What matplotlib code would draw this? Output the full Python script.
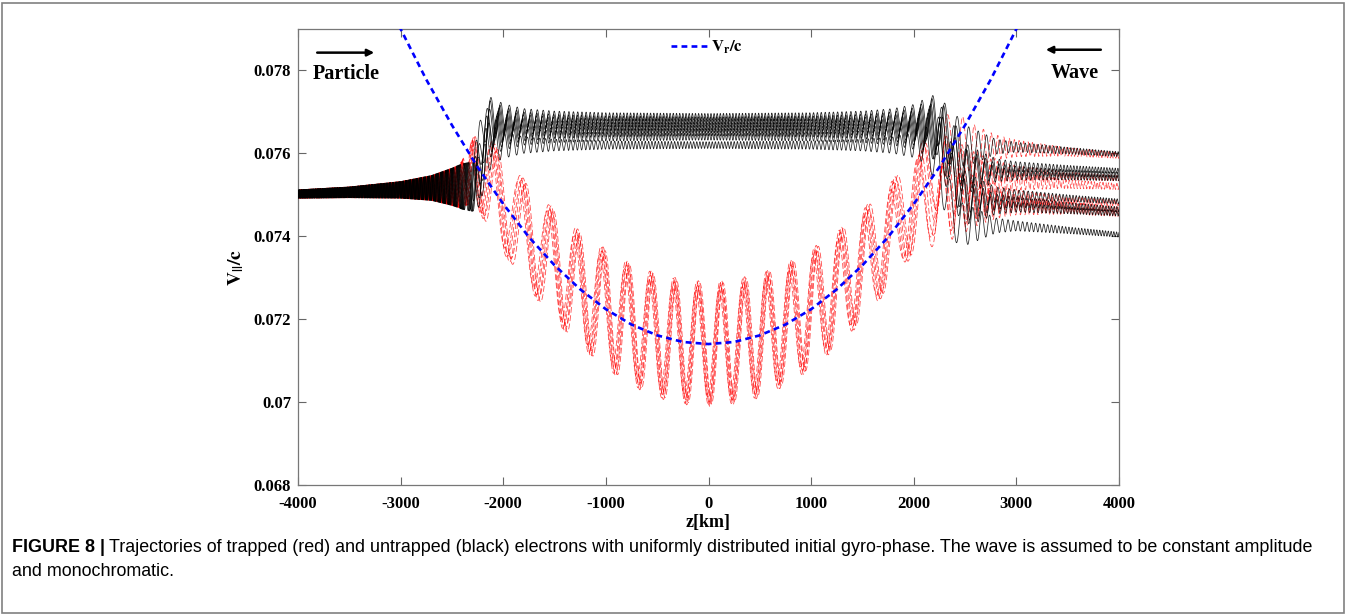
import numpy as np
import matplotlib
matplotlib.use("Agg")
import matplotlib.pyplot as plt
from matplotlib.patches import Rectangle

plt.rcParams['font.family'] = ['Liberation Serif', 'DejaVu Serif']
plt.rcParams['mathtext.fontset'] = 'stix'

# ---------------- data ----------------
# resonance velocity V_r/c along z
vr_z = [-3100, -3000, -2750, -2500, -2250, -2000, -1750, -1500, -1250, -1000, -750, -500, -250,
        0, 250, 500, 750, 1000, 1250, 1500, 1750, 2000, 2250, 2500, 2750, 3000, 3100]
vr_v = [0.07951, 0.07900, 0.07778, 0.07668, 0.07567, 0.07478, 0.07398, 0.07330, 0.07272, 0.07224,
        0.07187, 0.07161, 0.07145, 0.07140, 0.07145, 0.07161, 0.07187, 0.07224, 0.07272, 0.07330,
        0.07398, 0.07478, 0.07567, 0.07668, 0.07778, 0.07900, 0.07951]

# common pre-resonance drift of all electrons
pre_z = [-4000, -3500, -3000, -2600, -2450]
pre_v = [0.07502, 0.07506, 0.07512, 0.07518, 0.07520]

# untrapped (black) electrons
black_amp_z = [-4000, -3500, -3000, -2700, -2500, -2400, -2300, -2200, -2100, -2000, -1800, -1500,
               -1000, 0, 1000, 1500, 1800, 2000, 2200, 2400, 2600, 2800, 3000, 3500, 4000]
black_amp = [0.00010, 0.00013, 0.00020, 0.00030, 0.00045, 0.00055, 0.00060, 0.00055, 0.00045,
             0.00032, 0.00020, 0.00014, 0.00010, 0.00008, 0.00010, 0.00014, 0.00020, 0.00030,
             0.00055, 0.00060, 0.00040, 0.00018, 0.00012, 0.00008, 0.00006]
black_lam_z = [-4000, -3500, -3000, -2700, -2500, -2400, -2300, -2200, -2000, -1700, -1300, -800,
               0, 800, 1300, 1700, 2000, 2200, 2400, 2600, 2800, 3000, 3500, 4000]
black_lam = [22, 25, 32, 40, 55, 75, 105, 115, 85, 60, 42, 33, 30, 33, 42, 60, 85, 115, 125, 90,
             62, 46, 32, 26]
black_entry_z = [-2330, -2300, -2280, -2260, -2340, -2310, -2290, -2270]
black_band = [0.07688, 0.07680, 0.07673, 0.07665, 0.07658, 0.07650, 0.07640, 0.07620]
black_exit_z = [2150, 2180, 2120, 2200, 2160, 2140, 2190, 2100]
black_level_3000 = [0.07615, 0.07568, 0.07557, 0.07548, 0.07500, 0.07482, 0.07470, 0.07425]
black_level_4000 = [0.07598, 0.07558, 0.07548, 0.07540, 0.07484, 0.07465, 0.07455, 0.07404]

# trapped (red) electrons
red_amp_z = [-4000, -3500, -3000, -2700, -2500, -2400, -2300, -2200, -2100, -2000, -1800, -1500,
             -1000, -500, 0, 500, 1000, 1500, 1800, 2000, 2200, 2400, 2600, 2800, 3000, 3500, 4000]
red_amp = [0.00010, 0.00013, 0.00020, 0.00030, 0.00045, 0.00055, 0.00080, 0.00100, 0.00110,
           0.00115, 0.00120, 0.00130, 0.00140, 0.00145, 0.00145, 0.00145, 0.00140, 0.00130,
           0.00120, 0.00115, 0.00100, 0.00080, 0.00050, 0.00030, 0.00020, 0.00010, 0.00007]
red_amp_scale = [1.00, 0.92, 1.04, 0.96, 1.02, 0.88]
red_lam_z = [-4000, -3500, -3000, -2700, -2500, -2400, -2300, -2200, -2000, -1800, -1500, -1000,
             -500, 0, 500, 1000, 1500, 1800, 2000, 2200, 2400, 2600, 2800, 3000, 3500, 4000]
red_lam = [22, 25, 32, 40, 55, 75, 140, 230, 275, 275, 260, 240, 228, 225, 228, 240, 260, 275,
           275, 230, 150, 95, 62, 46, 32, 26]
red_spread_z = [-4000, -2400, -2000, -1500, 0, 1500, 2000, 2400, 4000]
red_spread = [1.0, 1.0, 1.0, 0.8, 0.6, 0.8, 1.0, 1.0, 1.0]
red_release_z = [2360, 2200, 2130, 2040, 1980, 2000]
red_level_3000 = [0.07612, 0.07552, 0.07532, 0.07492, 0.07472, 0.07482]
red_level_4000 = [0.07595, 0.07540, 0.07520, 0.07480, 0.07455, 0.07465]

x_ticks = [-4000, -3000, -2000, -1000, 0, 1000, 2000, 3000, 4000]
y_ticks = [0.068, 0.070, 0.072, 0.074, 0.076, 0.078]
y_ticklabels = ['0.068', '0.07', '0.072', '0.074', '0.076', '0.078']

# ---------------- figure ----------------
W, H = 1346, 615
fig = plt.figure(figsize=(W / 100, H / 100), dpi=100)
ax = fig.add_axes([298 / W, 1 - 485 / H, (1119 - 298) / W, (485 - 29) / H])

z = np.linspace(-4000, 4000, 32001)
dz = z[1] - z[0]


def phase_of(zk, lk):
    lam = np.interp(z, zk, lk)
    return 2 * np.pi * np.concatenate([[0], np.cumsum(dz / (0.5 * (lam[1:] + lam[:-1])))])


def smooth_step(x):
    x = np.clip(x, 0, 1)
    return x * x * (3 - 2 * x)


vr_line = np.interp(z, vr_z, vr_v)
pre_line = np.interp(z, pre_z, pre_v)

n_black = len(black_band)
n_red = len(red_release_z)

# red trajectories (trapped)
ph_r = phase_of(red_lam_z, red_lam)
amp_r = np.interp(z, red_amp_z, red_amp)
spread = np.interp(z, red_spread_z, red_spread)
for i in range(n_red):
    ph0 = (2 * np.pi / 3) * (i + 0.5) / n_red
    w_in = smooth_step((z + 2450) / 300.0)
    w_out = smooth_step((z - (red_release_z[i] - 150)) / 300.0)
    post = np.interp(z, [red_release_z[i], 3000, 4000],
                     [red_level_3000[i] + 0.00008, red_level_3000[i], red_level_4000[i]])
    c = (1 - w_in) * pre_line + w_in * ((1 - w_out) * vr_line + w_out * post)
    scale = 1 + (red_amp_scale[i] - 1) * w_in
    y = c + amp_r * scale * np.sin(ph_r + ph0 * spread)
    ax.plot(z, y, color='#ff0000', lw=0.6, ls=(0, (7, 3)), alpha=0.7, zorder=2)

# black trajectories (untrapped)
ph_b = phase_of(black_lam_z, black_lam)
amp_b = np.interp(z, black_amp_z, black_amp)
for i in range(n_black):
    ph0 = 2 * np.pi / 3 + (4 * np.pi / 3) * (i + 0.5) / n_black
    w_in = smooth_step((z - black_entry_z[i]) / 180.0)
    w_out = smooth_step((z - black_exit_z[i]) / 380.0)
    post = np.interp(z, [black_exit_z[i], 3000, 4000],
                     [black_level_3000[i] + 0.00005, black_level_3000[i], black_level_4000[i]])
    c = (1 - w_in) * pre_line + w_in * ((1 - w_out) * black_band[i] + w_out * post)
    y = c + amp_b * np.sin(ph_b + ph0)
    ax.plot(z, y, color='black', lw=0.55, alpha=0.85, zorder=3)

# resonance velocity
blue, = ax.plot(vr_z, vr_v, color='#0000ff', lw=1.9, ls=(0, (2.2, 1.6)), zorder=4,
                label=r'$\mathbf{V}_{\mathbf{r}}\mathbf{/c}$')

ax.set_xlim(-4000, 4000)
ax.set_ylim(0.068, 0.079)
ax.set_xticks(x_ticks)
ax.set_xticklabels([str(t) for t in x_ticks])
ax.set_yticks(y_ticks)
ax.set_yticklabels(y_ticklabels)
for lab in ax.get_xticklabels() + ax.get_yticklabels():
    lab.set_fontweight('bold')
    lab.set_fontsize(12)
ax.tick_params(direction='in', top=True, right=True, length=6, width=0.8, color='#666666')
ax.tick_params(axis='x', pad=8)
ax.tick_params(axis='y', pad=5)
for s in ax.spines.values():
    s.set_color('#777777')
    s.set_linewidth(0.9)

ax.set_xlabel('z[km]', fontsize=13, fontweight='bold', labelpad=1)
ax.set_ylabel(r'$\mathbf{V}_{\mathbf{||}}\mathbf{/c}$', fontsize=14)
ax.yaxis.set_label_coords(-0.063, 0.478)

leg = ax.legend(handles=[blue], loc='upper center', bbox_to_anchor=(0.498, 1.012), frameon=False,
                fontsize=12, handlelength=2.2, handletextpad=0.2)

# Particle / Wave annotations
ax.annotate('', xy=(-3230, 0.07843), xytext=(-3840, 0.07843),
            arrowprops=dict(arrowstyle='-|>', color='black', lw=1.8, mutation_scale=10))
ax.text(-3860, 0.07792, 'Particle', fontsize=14.5, fontweight='bold', ha='left', va='center')
ax.annotate('', xy=(3260, 0.07850), xytext=(3850, 0.07850),
            arrowprops=dict(arrowstyle='-|>', color='black', lw=1.8, mutation_scale=10))
ax.text(3800, 0.07794, 'Wave', fontsize=14.5, fontweight='bold', ha='right', va='center')

# figure frame
fig.patches.append(Rectangle((2 / W, 2 / H), (W - 4) / W, (H - 5) / H, transform=fig.transFigure,
                             fill=False, edgecolor='#808080', lw=1.2))

# caption
cap_font = ['Liberation Sans Narrow', 'Liberation Sans', 'DejaVu Sans']
t1 = fig.text(12 / W, 1 - 548 / H, 'FIGURE 8 |', fontsize=12.9, fontweight='bold',
              family=cap_font, va='center', ha='left')
fig.canvas.draw()
bb = t1.get_window_extent()
fig.text((bb.x1 + 4) / W, 1 - 548 / H,
         'Trajectories of trapped (red) and untrapped (black) electrons with uniformly distributed '
         'initial gyro-phase. The wave is assumed to be constant amplitude',
         fontsize=12.9, family=cap_font, va='center', ha='left')
fig.text(12 / W, 1 - 572 / H, 'and monochromatic.', fontsize=12.9, family=cap_font,
         va='center', ha='left')

fig.savefig('out.png', dpi=100)
